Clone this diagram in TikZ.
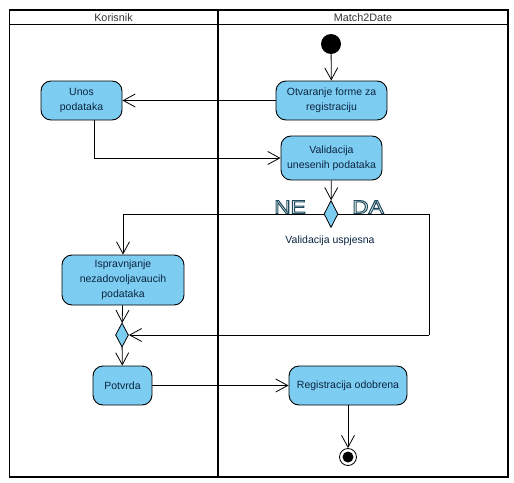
\documentclass[tikz,border=0pt]{standalone}
\usepackage{fontspec}
\setmainfont{Liberation Sans}
\usetikzlibrary{arrows.meta,shapes.geometric}
\definecolor{actfill}{HTML}{7DCDF2}
\definecolor{acttext}{HTML}{0B2540}
\definecolor{nedark}{HTML}{1E4A5E}
\definecolor{hdrtext}{HTML}{333333}
\newcommand{\outlinetext}[1]{{\color{white}\special{pdf:code q 2 Tr 0.9 w 0.118 0.290 0.369 RG}#1\special{pdf:code Q}}}
\begin{document}
\begin{tikzpicture}[x=1pt,y=-1pt,
  act/.style={draw=black, line width=0.9pt, fill=actfill, rounded corners=10pt,
    text=acttext, font=\fontsize{10.5}{15}\selectfont, align=center, inner sep=0pt},
  dec/.style={diamond, draw=black, line width=0.8pt, fill=actfill, inner sep=0pt,
    minimum width=14pt, minimum height=27pt},
  flow/.style={draw, line width=0.8pt, -{Straight Barb[length=12pt,width=13pt]}},
  plain/.style={draw, line width=0.8pt},
  lane/.style={draw, line width=1.6pt},
  hdr/.style={text=hdrtext, font=\fontsize{10.8}{12}\selectfont},
  guard/.style={font=\fontsize{19}{19}\selectfont}]
\useasboundingbox (0,0) rectangle (514,482);
\fill[white] (0,0) rectangle (514,482);
% swimlanes
\draw[lane] (9.5,10) rectangle (508,477);
\draw[line width=1.2pt] (9.5,24.5) -- (508,24.5);
\draw[lane] (218,10) -- (218,477);
\node[hdr] (hk) at (113.5,17.5) {Korisnik};
\node[hdr] (hm) at (363,17.5) {Match2Date};
% nodes
\node[circle, fill=black, minimum size=20pt, inner sep=0pt] (start) at (331,44) {};
\node[act, minimum width=111pt, minimum height=39pt] (otv) at (331.5,100.5) {Otvaranje forme za\\registraciju};
\node[act, minimum width=81pt, minimum height=39pt] (unos) at (81.5,100.5) {Unos\\podataka};
\node[act, minimum width=101pt, minimum height=44pt] (val) at (331.5,158) {Validacija\\unesenih podataka};
\node[dec] (d1) at (331,214) {};
\node[act, minimum width=122pt, minimum height=50pt] (isp) at (123,280) {Ispravnjanje\\nezadovoljavaucih\\podataka};
\node[dec, minimum width=13pt, minimum height=24pt] (m1) at (122,335) {};
\node[act, minimum width=59pt, minimum height=39pt] (pot) at (122.5,385.5) {Potvrda};
\node[act, minimum width=118pt, minimum height=39pt] (reg) at (348,385.5) {Registracija odobrena};
\node[circle, draw=black, line width=0.8pt, fill=white, minimum size=17pt, inner sep=0pt] (end) at (348,457) {};
\fill[black] (end.center) circle (5.5pt);
% labels
\node[guard] (ne) at (290,207) {\scalebox{1.2}[1]{\outlinetext{NE}}};
\node[guard] (da) at (368,207) {\scalebox{1.2}[1]{\outlinetext{DA}}};
\node[text=acttext, font=\fontsize{10.5}{13}\selectfont] (vu) at (330,241) {Validacija uspjesna};
% flows
\draw[flow] (start) -- (otv);
\draw[flow] (otv) -- (unos);
\draw[flow] (unos.south -| 94,0) |- (val.west);
\draw[flow] (val) -- (d1);
\coordinate (lc) at (123,214);
\coordinate (rc) at (429,214);
\coordinate (rb) at (429,335);
\draw[plain] (d1.west) -- (lc);
\draw[flow] (lc) -- (isp.north);
\draw[plain] (d1.east) -- (rc) -- (rb);
\draw[flow] (rb) -- (m1.east);
\draw[flow] (isp) -- (m1);
\draw[flow] (m1) -- (pot);
\draw[flow] (pot) -- (reg);
\draw[flow] (reg) -- (end);
\end{tikzpicture}
\end{document}
